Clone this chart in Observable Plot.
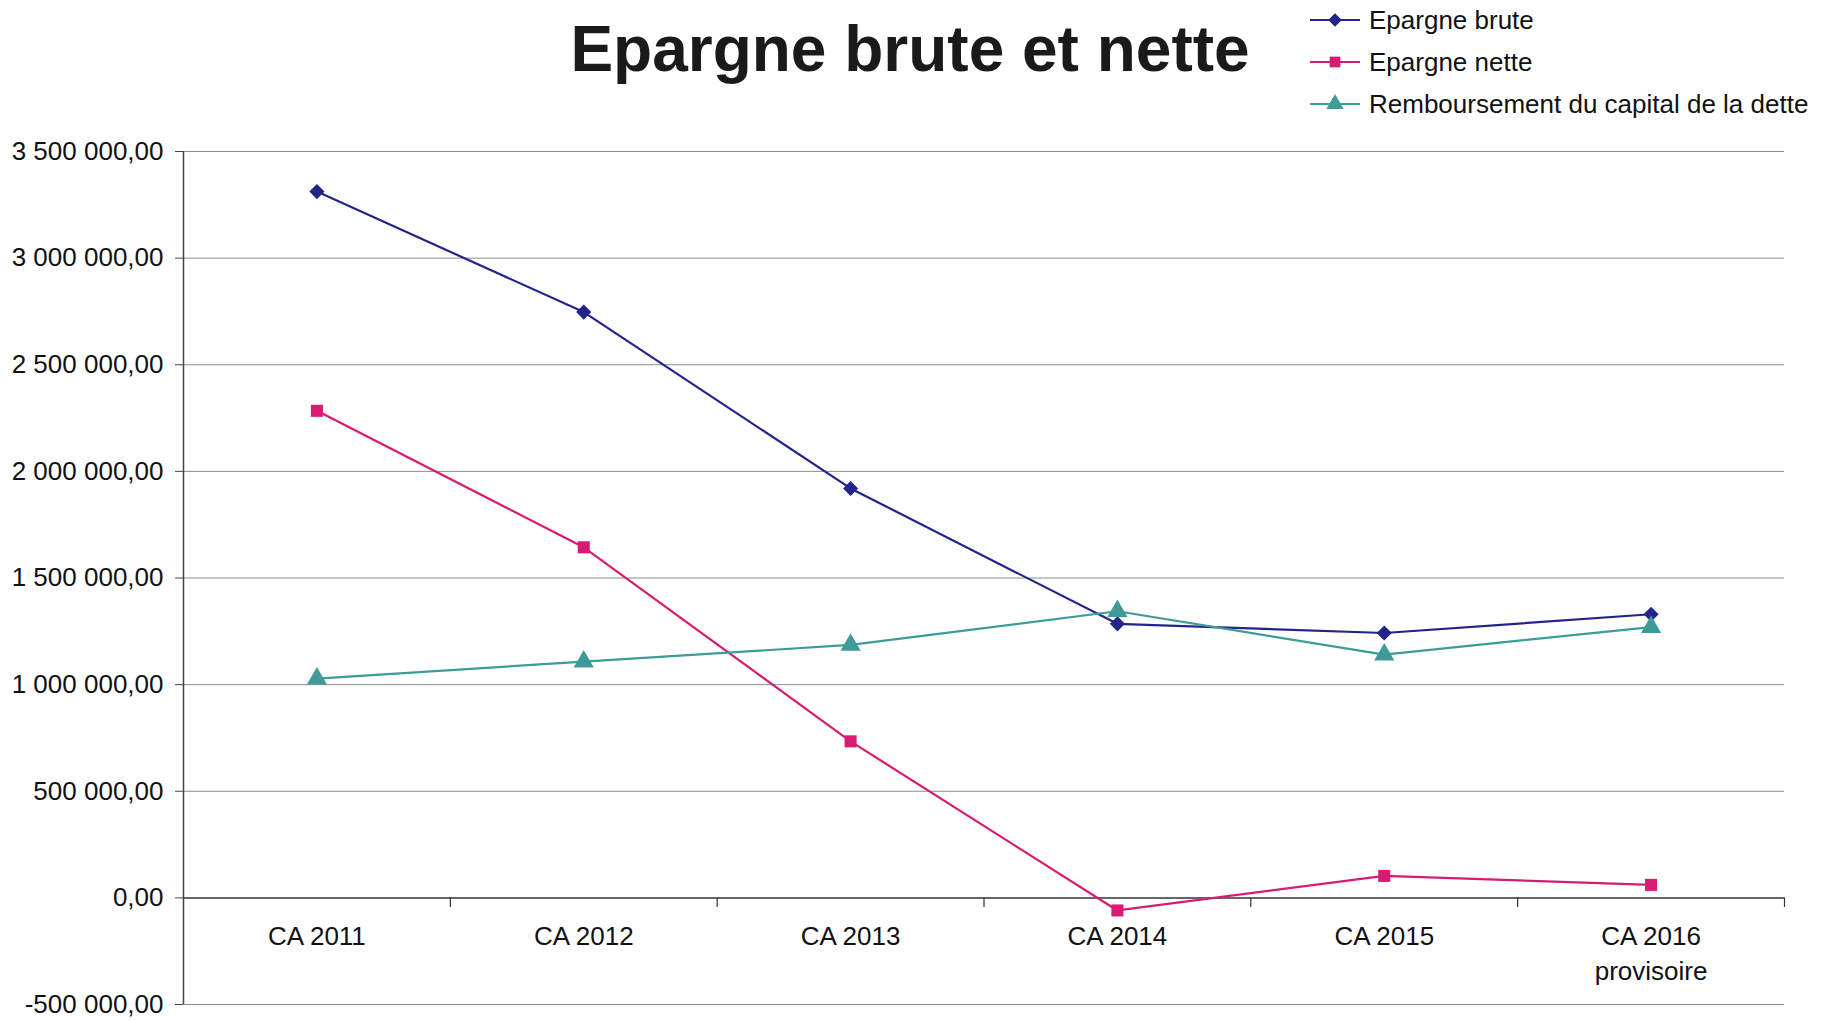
<!DOCTYPE html>
<html>
<head>
<meta charset="utf-8">
<script src="https://cdn.jsdelivr.net/npm/d3@7"></script>
<script src="https://cdn.jsdelivr.net/npm/@observablehq/plot@0.6"></script>
<style>
  html, body { margin: 0; padding: 0; background: #fff; }
  #wrap { position: relative; width: 1822px; height: 1020px; font-family: "Liberation Sans", Arial, sans-serif; }
  #title { position: absolute; left: 0; width: 1822px; top: 12px; text-align: center; padding-left: 0; }
  #title span { position: absolute; left: 910px; transform: translateX(-50%); font-size: 64px; font-weight: bold; color: #1a1a1a; white-space: nowrap; }
  #legend { position: absolute; left: 1308px; top: -1px; }
  .row { display: flex; align-items: center; height: 42px; font-size: 26px; color: #111; white-space: nowrap; }
  .row svg { margin-right: 7px; }
  #chart { position: absolute; left: 0; top: 0; }
</style>
</head>
<body>
<div id="wrap">
  <div id="chart"></div>
  <div id="title"><span>Epargne brute et nette</span></div>
  <div id="legend"></div>
</div>
<script>
const categories = ["CA 2011", "CA 2012", "CA 2013", "CA 2014", "CA 2015", "CA 2016\nprovisoire"];
const epargneBrute = [3312000, 2747000, 1920000, 1285000, 1242000, 1330000];
const epargneNette = [2284000, 1644000, 734000, -59000, 103000, 61000];
const remboursement = [1028000, 1108000, 1186000, 1344000, 1141000, 1270000];
const yTicks = [-500000, 0, 500000, 1000000, 1500000, 2000000, 2500000, 3000000, 3500000];
const seriesNames = ["Epargne brute", "Epargne nette", "Remboursement du capital de la dette"];
const seriesColors = ["#23238a", "#d81b72", "#3e9b98"];
const seriesSymbols = ["diamond2", "square", "triangle"];
const seriesValues = [epargneBrute, epargneNette, remboursement];

const fmt = d3.formatLocale({decimal: ",", thousands: " ", grouping: [3], currency: ["", ""], minus: "-"}).format(",.2f");

const rows = [];
seriesValues.forEach((vals, s) => vals.forEach((v, i) => rows.push({series: seriesNames[s], idx: i + 0.5, value: v, s})));
const boundaries = d3.range(1, categories.length + 1);

const marks = [
  Plot.gridY(yTicks.filter(v => v !== 0), {stroke: "#8c8c8c", strokeOpacity: 1, strokeWidth: 1}),
  Plot.axisY({ticks: yTicks, tickFormat: fmt, tickSize: 8, tickPadding: 12, fontSize: 26, label: null, stroke: "#444", color: "#111"}),
  Plot.ruleX([0], {stroke: "#444", strokeWidth: 1.5}),
  Plot.ruleY([0], {stroke: "#333", strokeWidth: 1.5}),
  Plot.ruleX(boundaries, {x: d => d, y1: 0, y2: -45000, stroke: "#333", strokeWidth: 1.2}),
  Plot.text(categories, {x: (d, i) => i + 0.5, frameAnchor: "bottom", dy: -84, lineAnchor: "top", lineHeight: 1.33, text: d => d, fontSize: 26, fill: "#111"})
];
seriesNames.forEach((name, s) => {
  const data = rows.filter(r => r.s === s);
  marks.push(Plot.line(data, {x: "idx", y: "value", stroke: seriesColors[s], strokeWidth: 2.2}));
  marks.push(Plot.dot(data, {x: "idx", y: "value", symbol: () => seriesSymbols[s], fill: seriesColors[s], stroke: "none", r: s === 2 ? 7.5 : 6.8}));
});

const chart = Plot.plot({
  width: 1822,
  height: 1020,
  marginLeft: 183,
  marginRight: 38,
  marginTop: 151,
  marginBottom: 16,
  style: {fontFamily: "'Liberation Sans', Arial, sans-serif", background: "#fff", overflow: "visible"},
  x: {type: "linear", domain: [0, categories.length], axis: null},
  y: {domain: [-500000, 3500000], axis: null},
  symbol: {type: "identity"},
  marks
});
document.getElementById("chart").appendChild(chart);

const legend = document.getElementById("legend");
seriesNames.forEach((name, s) => {
  const row = document.createElement("div");
  row.className = "row";
  const sw = d3.create("svg").attr("width", 54).attr("height", 20);
  sw.append("line").attr("x1", 2).attr("x2", 52).attr("y1", 10).attr("y2", 10).attr("stroke", seriesColors[s]).attr("stroke-width", 2);
  const symMap = {diamond2: d3.symbolDiamond2, square: d3.symbolSquare, triangle: d3.symbolTriangle};
  sw.append("path").attr("transform", "translate(27,10)").attr("d", d3.symbol(symMap[seriesSymbols[s]], s === 2 ? 130 : 115)()).attr("fill", seriesColors[s]);
  row.appendChild(sw.node());
  const t = document.createElement("span");
  t.textContent = name;
  row.appendChild(t);
  legend.appendChild(row);
});
</script>
</body>
</html>
